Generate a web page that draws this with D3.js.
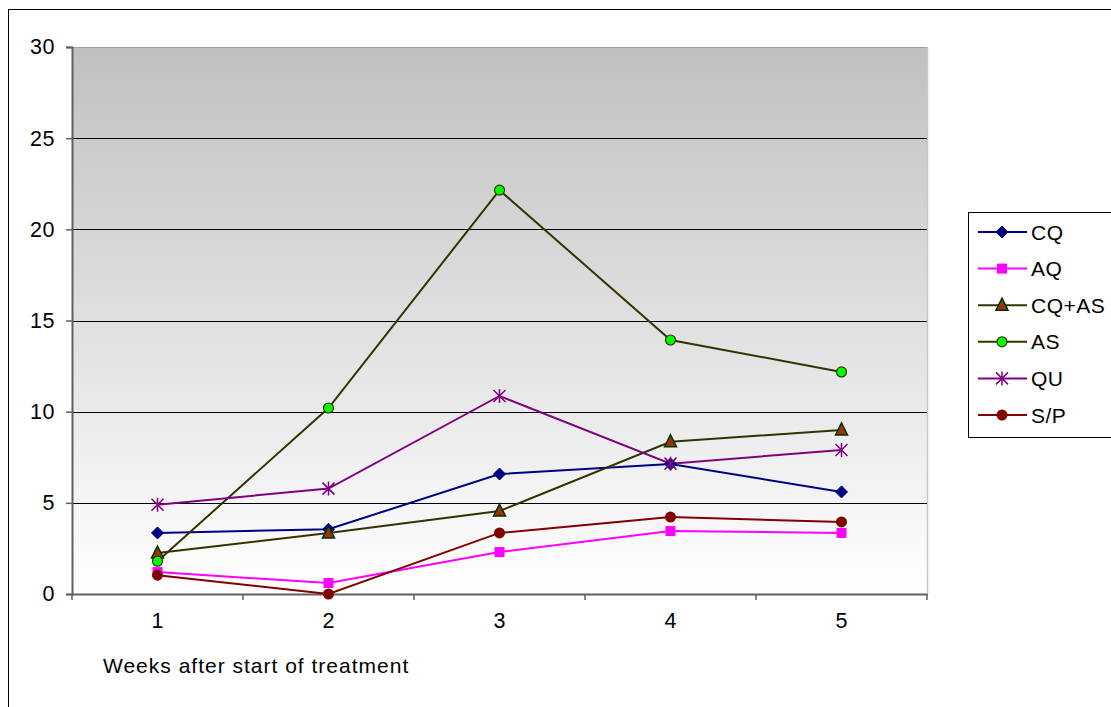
<!DOCTYPE html>
<html><head><meta charset="utf-8">
<script src="https://cdn.jsdelivr.net/npm/d3@7/dist/d3.min.js"></script>
<style>body{margin:0;background:#fff;} svg{display:block;font-family:"Liberation Sans",Arial,sans-serif;}</style>
</head><body>
<svg id="c" width="1111" height="707"></svg>
<script>
const weeks = ["1","2","3","4","5"];
const yTicks = [0,5,10,15,20,25,30];
const seriesNames = ["CQ","AQ","CQ+AS","AS","QU","S/P"];
const CQ   = [3.35, 3.55, 6.58, 7.13, 5.6];
const AQ   = [1.2, 0.6, 2.3, 3.45, 3.35];
const CQAS = [2.25, 3.35, 4.55, 8.35, 9.0];
const AS   = [1.8, 10.2, 22.15, 13.93, 12.18];
const QU   = [4.9, 5.78, 10.86, 7.15, 7.9];
const SP   = [1.03, 0.0, 3.35, 4.22, 3.95];
const xTitle = "Weeks after start of treatment";

const styles = {
  "CQ":    {line:"#000080", marker:"diamond", fill:"#000080", stroke:"#000080"},
  "AQ":    {line:"#FF00FF", marker:"square", fill:"#FF00FF", stroke:"#FF00FF"},
  "CQ+AS": {line:"#333300", marker:"triangle", fill:"#993300", stroke:"#003300"},
  "AS":    {line:"#333300", marker:"circle", fill:"#00FF00", stroke:"#333300"},
  "QU":    {line:"#800080", marker:"star", fill:"none", stroke:"#800080"},
  "S/P":   {line:"#800000", marker:"circleFilled", fill:"#800000", stroke:"#800000"}
};
const data = [CQ, AQ, CQAS, AS, QU, SP].map((v,i)=>({name:seriesNames[i], values:v}));

const svg = d3.select("#c");
const L=72, R=927, T=47, B=594;
const x = d3.scaleBand().domain(weeks).range([L,R]);
const y = d3.scaleLinear().domain([0,30]).range([B,T]);
const FONT = "Liberation Sans, Arial, sans-serif";

// outer border
svg.append("rect").attr("x",8.5).attr("y",9.5).attr("width",1120).attr("height",720)
  .attr("fill","none").attr("stroke","#000").attr("stroke-width",1);

// gradient
const defs = svg.append("defs");
const g = defs.append("linearGradient").attr("id","bg").attr("x1",0).attr("y1",0).attr("x2",0).attr("y2",1);
g.append("stop").attr("offset","0%").attr("stop-color","#c0c0c0");
g.append("stop").attr("offset","100%").attr("stop-color","#ffffff");
svg.append("rect").attr("x",L).attr("y",T).attr("width",R-L).attr("height",B-T).attr("fill","url(#bg)");
svg.append("line").attr("x1",L).attr("x2",R).attr("y1",T+0.5).attr("y2",T+0.5).attr("stroke","#a0a0a0");
svg.append("line").attr("x1",R+0.5).attr("x2",R+0.5).attr("y1",T).attr("y2",B).attr("stroke","#c8c8c8").attr("stroke-width",1.5);

// gridlines
svg.append("g").selectAll("line").data(yTicks.filter(d=>d>0&&d<30)).join("line")
  .attr("x1",L).attr("x2",R).attr("y1",d=>Math.round(y(d))+0.5).attr("y2",d=>Math.round(y(d))+0.5)
  .attr("stroke","#000").attr("stroke-width",1);

// y axis
const yAxis = svg.append("g").attr("transform",`translate(${L},0)`)
  .call(d3.axisLeft(y).tickValues(yTicks).tickSize(6).tickPadding(11).tickFormat(d3.format("d")));
yAxis.select(".domain").attr("stroke","#606060").attr("stroke-width",2);
yAxis.selectAll(".tick line").attr("stroke","#606060").attr("stroke-width",1.5);
yAxis.selectAll("text").attr("font-size",21.5).attr("letter-spacing",0.5).attr("fill","#000").attr("font-family",FONT);

// x axis
const xAxis = svg.append("g").attr("transform",`translate(0,${B})`)
  .call(d3.axisBottom(x).tickSize(0).tickPadding(19));
xAxis.select(".domain").attr("stroke","#606060").attr("stroke-width",2);
xAxis.selectAll("text").attr("font-size",21.5).attr("fill","#000").attr("font-family",FONT);
const bounds = weeks.map(w=>x(w)).concat([R]);
xAxis.selectAll(".bt").data(bounds).join("line").attr("class","bt")
  .attr("x1",d=>d).attr("x2",d=>d).attr("y1",0).attr("y2",6).attr("stroke","#606060").attr("stroke-width",1.5);

svg.append("text").attr("x",103).attr("y",673).attr("font-size",21).attr("letter-spacing",1)
  .attr("fill","#000").attr("font-family",FONT).text(xTitle);

const cx = d=>x(d)+x.bandwidth()/2;
function drawMarker(sel, st, px, py){
  const m = st.marker;
  if(m==="diamond"){
    sel.append("path").attr("d",`M${px},${py-6}L${px+6},${py}L${px},${py+6}L${px-6},${py}Z`).attr("fill",st.fill).attr("stroke",st.stroke);
  } else if(m==="square"){
    sel.append("rect").attr("x",px-5).attr("y",py-5).attr("width",10).attr("height",10).attr("fill",st.fill);
  } else if(m==="triangle"){
    sel.append("path").attr("d",`M${px},${py-7}L${px+6},${py+5}L${px-6},${py+5}Z`).attr("fill",st.fill).attr("stroke",st.stroke).attr("stroke-width",1.5);
  } else if(m==="circle"){
    sel.append("circle").attr("cx",px).attr("cy",py).attr("r",5).attr("fill",st.fill).attr("stroke",st.stroke).attr("stroke-width",1.2);
  } else if(m==="circleFilled"){
    sel.append("circle").attr("cx",px).attr("cy",py).attr("r",5.5).attr("fill",st.fill);
  } else if(m==="star"){
    const r=6;
    const p = `M${px-r},${py-r}L${px+r},${py+r}M${px-r},${py+r}L${px+r},${py-r}M${px},${py-r-1}L${px},${py+r+1}`;
    sel.append("path").attr("d",p).attr("stroke",st.stroke).attr("stroke-width",1.5).attr("fill","none");
  }
}

const line = d3.line().x((d,i)=>cx(weeks[i])).y(d=>y(d));
const sg = svg.append("g");
data.forEach(s=>{
  const st = styles[s.name];
  sg.append("path").datum(s.values).attr("d",line).attr("fill","none").attr("stroke",st.line).attr("stroke-width",2);
});
data.forEach(s=>{
  const st = styles[s.name];
  const mg = sg.append("g");
  s.values.forEach((v,i)=>drawMarker(mg, st, cx(weeks[i]), y(v)));
});

// legend
const lg = svg.append("g");
lg.append("rect").attr("x",968.5).attr("y",212.5).attr("width",160).attr("height",225).attr("fill","#fff").attr("stroke","#000");
const ly = d3.scalePoint().domain(seriesNames).range([232,415]);
seriesNames.forEach(n=>{
  const st = styles[n], yy = ly(n);
  lg.append("line").attr("x1",978).attr("x2",1027).attr("y1",yy).attr("y2",yy).attr("stroke",st.line).attr("stroke-width",2);
  drawMarker(lg, st, 1002, yy);
  lg.append("text").attr("x",1031).attr("y",yy+7.5).attr("font-size",21).attr("letter-spacing",0.5)
    .attr("fill","#000").attr("font-family",FONT).text(n);
});
</script>
</body></html>
